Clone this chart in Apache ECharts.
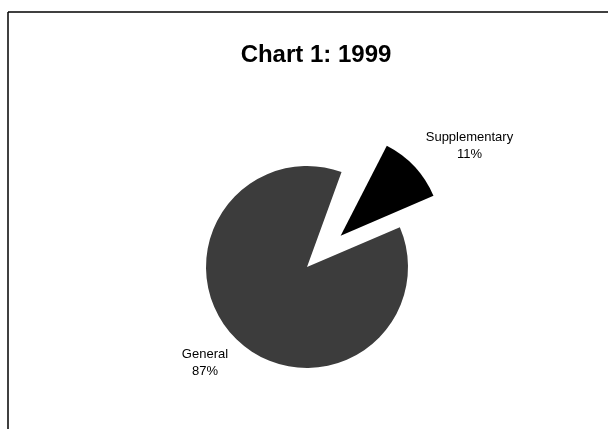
<!DOCTYPE html>
<html>
<head>
<meta charset="utf-8">
<script src="https://cdn.jsdelivr.net/npm/echarts@6/dist/echarts.min.js"></script>
<style>
html,body{margin:0;padding:0;background:#fff;}
#chart{width:608px;height:429px;}
</style>
</head>
<body>
<div id="chart"></div>
<script>
const titleText = 'Chart 1: 1999';
const categories = ['', 'Supplementary', 'General'];
const values = [2, 11, 87];
const colors = ['rgba(0,0,0,0)', '#000000', '#3c3c3c'];

const chart = echarts.init(document.getElementById('chart'), null, {renderer: 'canvas'});

const data = categories.map((name, i) => {
  const item = { name: name, value: values[i], itemStyle: { color: colors[i] } };
  if (name === '') {
    item.label = { show: false };
    item.labelLine = { show: false };
    item.emphasis = { disabled: true };
  }
  if (name === 'Supplementary') {
    item.selected = true;
  }
  return item;
});

chart.setOption({
  animation: false,
  backgroundColor: '#ffffff',
  title: {
    text: titleText,
    left: 311,
    textAlign: 'center',
    top: 38,
    textStyle: { fontFamily: 'Liberation Sans, Arial, sans-serif', fontSize: 24, fontWeight: 'bold', color: '#000' }
  },
  graphic: [
    { type: 'line', shape: { x1: 8, y1: 12, x2: 608, y2: 12 }, style: { stroke: '#000', lineWidth: 1.5 } },
    { type: 'line', shape: { x1: 8, y1: 12, x2: 8, y2: 429 }, style: { stroke: '#000', lineWidth: 1.5 } }
  ],
  series: [{
    type: 'pie',
    center: [307, 267],
    radius: 101,
    startAngle: 70,
    clockwise: true,
    selectedMode: 'single',
    selectedOffset: 46,
    avoidLabelOverlap: false,
    itemStyle: { borderWidth: 0 },
    label: {
      show: true,
      position: 'outside',
      formatter: '{b}\n{d}%',
      fontFamily: 'Liberation Sans, Arial, sans-serif',
      fontSize: 13,
      lineHeight: 17,
      color: '#000'
    },
    labelLine: { show: false, length: 30, length2: 0 },
    labelLayout: function (p) {
      if (p.dataIndex === 1) return { dx: 28, dy: 0, align: 'center' };
      if (p.dataIndex === 2) return { dx: -7, dy: 1, align: 'center' };
      return {};
    },
    data: data
  }]
});
</script>
</body>
</html>
